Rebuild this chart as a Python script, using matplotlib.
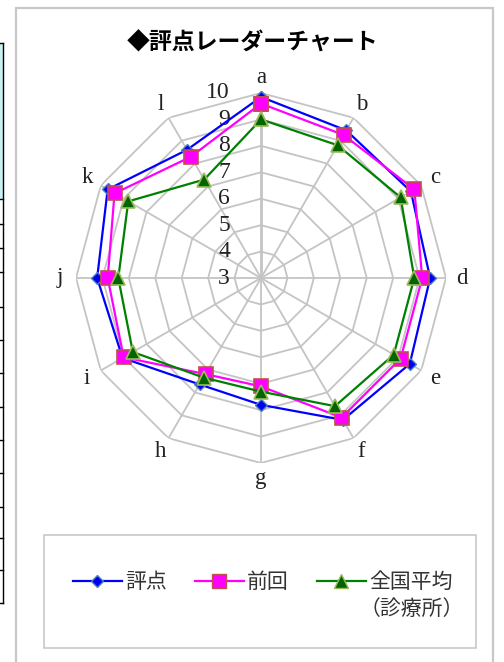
import numpy as np
import matplotlib.pyplot as plt
from matplotlib.lines import Line2D
from matplotlib.patches import Rectangle

plt.rcParams['font.family'] = ['Noto Sans CJK JP', 'DejaVu Sans']

# データ
axes_labels = ['a', 'b', 'c', 'd', 'e', 'f', 'g', 'h', 'i', 'j', 'k', 'l']
score = [9.85, 9.45, 9.55, 9.4, 9.5, 9.2, 7.8, 7.65, 9.05, 9.2, 9.7, 8.6]      # 評点
previous = [9.6, 9.25, 9.7, 9.1, 9.1, 9.1, 7.1, 7.2, 9.0, 8.8, 9.4, 8.3]       # 前回
national = [9.0, 8.8, 9.1, 8.8, 8.8, 8.6, 7.3, 7.35, 8.6, 8.4, 8.8, 7.3]       # 全国平均（診療所）
r_ticks = [3, 4, 5, 6, 7, 8, 9, 10]

W, H = 504, 662
fig = plt.figure(figsize=(W / 100, H / 100), dpi=100)

# 左端に見えているシートのセル
fig.add_artist(Rectangle((0, 1 - 199 / H), 2.5 / W, (199 - 43) / H, transform=fig.transFigure,
                         facecolor='#c8f2f2', edgecolor='none', zorder=-2))
fig.add_artist(Line2D([2.5 / W, 2.5 / W], [1 - 43 / H, 1 - 603 / H], transform=fig.transFigure,
                      color='black', lw=1, zorder=-2))
for yy in [43, 199, 224, 248, 272, 307, 340, 373, 407, 440, 473, 507, 538, 570, 603]:
    fig.add_artist(Line2D([0, 3 / W], [1 - yy / H, 1 - yy / H], transform=fig.transFigure,
                          color='black', lw=1, zorder=-2))

# グラフエリアの枠（レーダーより後ろに）
fig.add_artist(Rectangle((16 / W, -0.01), (493 - 16) / W, 1.01 - 8 / H, transform=fig.transFigure,
                         facecolor='white', edgecolor='#c8c8c8', lw=1.6, zorder=-1))

# レーダー本体 中心(261,278) 半径185px
cx, cy, R = 261, 278, 185
ax = fig.add_axes([(cx - R) / W, (H - cy - R) / H, 2 * R / W, 2 * R / H], projection='polar')
ax.set_zorder(1)
ax.set_theta_zero_location('N')
ax.set_theta_direction(-1)
ax.set_ylim(3, 10)
ax.grid(False)
ax.spines['polar'].set_visible(False)
ax.set_xticks([])
ax.set_yticks([])
ax.patch.set_alpha(0)

theta = np.arange(len(axes_labels)) * 2 * np.pi / len(axes_labels)
closed = np.append(theta, theta[0])

grid_c = '#c4c4c4'
for v in r_ticks[1:]:
    ax.plot(closed, [v] * len(closed), color=grid_c, lw=1.3, zorder=1)
for i, t in enumerate(theta):
    ax.plot([t, t], [3, 10], color=grid_c, lw=2.0 if i == 0 else 1.3, zorder=1)

for v in r_ticks:
    ax.annotate(str(v), xy=(0, v), xytext=(-31, 0), textcoords='offset pixels',
                ha='right', va='center', fontsize=17, family='Liberation Serif', color='#222222')
for t, lab in zip(theta, axes_labels):
    ax.text(t, 10.6, lab, ha='center', va='center', fontsize=16.5,
            family='Liberation Serif', color='#222222')

def close(vals):
    return np.append(vals, vals[0])

ax.plot(closed, close(score), color='#0000ff', lw=1.6, marker='D', ms=6,
        mfc='#0000ee', mec='#4f81bd', mew=1, zorder=3, clip_on=False)
ax.plot(closed, close(previous), color='#ff00ff', lw=1.6, marker='s', ms=9.5,
        mfc='#ff00ff', mec='#c0504d', mew=1.2, zorder=4, clip_on=False)
ax.plot(closed, close(national), color='#008000', lw=1.6, marker='^', ms=9.5,
        mfc='#006400', mec='#9bbb59', mew=1.2, zorder=5, clip_on=False)

fig.text(253 / W, 1 - 43 / H, '◆評点レーダーチャート', ha='center', va='center',
         fontsize=16.5, fontweight='bold')

# 凡例
fig.add_artist(Rectangle((44 / W, 1 - 648 / H), (476 - 44) / W, (648 - 535) / H,
                         transform=fig.transFigure, facecolor='white', edgecolor='#c8c8c8',
                         lw=1.2, zorder=0.5))
handles = [
    Line2D([], [], color='#0000ff', lw=1.6, marker='D', ms=6, mfc='#0000ee', mec='#4f81bd'),
    Line2D([], [], color='#ff00ff', lw=1.6, marker='s', ms=9.5, mfc='#ff00ff', mec='#c0504d'),
    Line2D([], [], color='#008000', lw=1.6, marker='^', ms=9.5, mfc='#006400', mec='#9bbb59'),
]
leg = fig.legend(handles, ['評点', '前回', '全国平均'], ncol=3, loc='center left',
                 bbox_to_anchor=(54 / W, 1 - 582 / H), frameon=False, fontsize=15,
                 handlelength=2.35, handletextpad=0.15, columnspacing=1.35, labelcolor='#333333')
fig.text(360 / W, 1 - 609 / H, '（診療所）', ha='left', va='center', fontsize=15, color='#333333')

fig.savefig('out.png', dpi=100)
